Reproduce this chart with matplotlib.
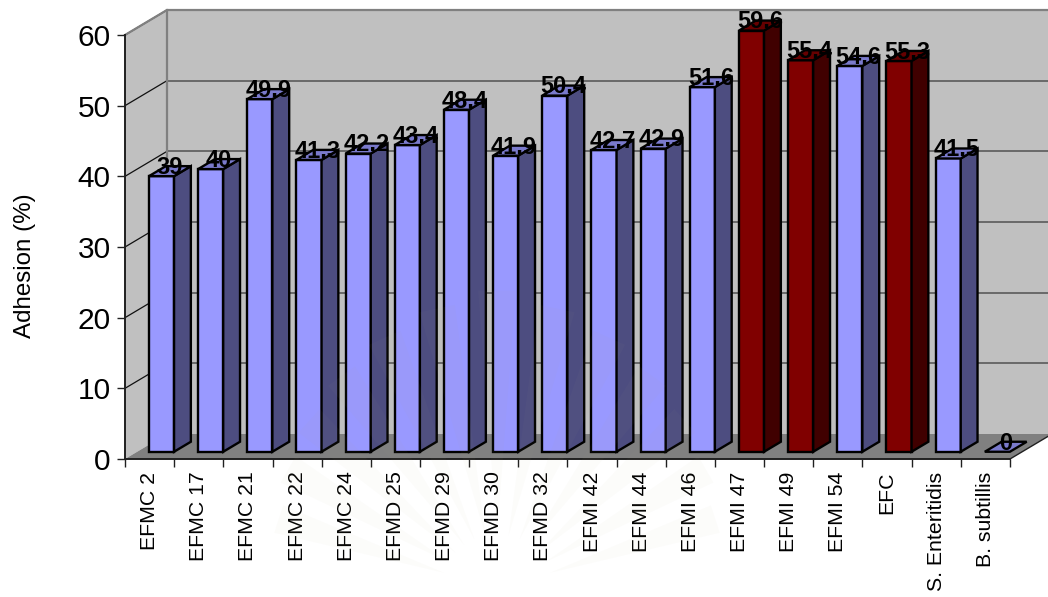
import numpy as np
import matplotlib
matplotlib.use("Agg")
import matplotlib.pyplot as plt
from matplotlib.patches import Polygon
from matplotlib.transforms import offset_copy

plt.rcParams["font.family"] = ["Liberation Sans", "DejaVu Sans"]

strains = ["EFMC 2", "EFMC 17", "EFMC 21", "EFMC 22", "EFMC 24", "EFMD 25",
           "EFMD 29", "EFMD 30", "EFMD 32", "EFMI 42", "EFMI 44", "EFMI 46",
           "EFMI 47", "EFMI 49", "EFMI 54", "EFC", "S. Enteritidis", "B. subtillis"]
adhesion = [39, 40, 49.9, 41.3, 42.2, 43.4, 48.4, 41.9, 50.4, 42.7, 42.9, 51.6,
            59.6, 55.4, 54.6, 55.3, 41.5, 0]
highlighted = ["EFMI 47", "EFMI 49", "EFC"]
value_ticks = [0, 10, 20, 30, 40, 50, 60]

W, H = 1048, 597
LEFT, RIGHT, BOTTOM, TOP = 125, 1010, 459, 35

# Oblique projection of the box: full depth in axis units
DEPTH_X = 42 / ((RIGHT - LEFT) / len(strains))
DEPTH_Y = 25 / ((BOTTOM - TOP) / 60)
BAR_WIDTH = 0.51
BAR_START = 0.24
BAR_NEAR, BAR_FAR = 0.29, 0.69

PALETTE = {
    "plain": ("#9999FF", "#4D4D80", "#7A7ACC"),
    "hot": ("#800000", "#400000", "#660000"),
}


def project(x, y, depth):
    return x + depth * DEPTH_X, y + depth * DEPTH_Y


def face(ax, corners, color, edge="black", lw=1.7, z=3):
    pts = [project(*c) for c in corners]
    ax.add_patch(Polygon(pts, closed=True, facecolor=color, edgecolor=edge,
                         linewidth=lw, joinstyle="miter", clip_on=False, zorder=z))


fig = plt.figure(figsize=(W / 100, H / 100), dpi=100, facecolor="white")
ax = fig.add_axes([LEFT / W, 1 - BOTTOM / H, (RIGHT - LEFT) / W, (BOTTOM - TOP) / H])
n = len(strains)
ax.set_xlim(0, n)
ax.set_ylim(0, 60)
ax.patch.set_visible(False)
for side in ("top", "right"):
    ax.spines[side].set_visible(False)
for side in ("left", "bottom"):
    ax.spines[side].set_linewidth(1.4)
    ax.spines[side].set_color("#202020")
    ax.spines[side].set_zorder(4)

# Walls and floor of the box
WALL = "#C0C0C0"
OUTLINE = "#808080"
face(ax, [(0, 0, 0), (0, 60, 0), (0, 60, 1), (0, 0, 1)], WALL, edge="none", z=0)
face(ax, [(0, 0, 1), (0, 60, 1), (n, 60, 1), (n, 0, 1)], WALL, edge="none", z=0)
face(ax, [(0, 0, 0), (n, 0, 0), (n, 0, 1), (0, 0, 1)], "#808080", edge="none", z=0.5)

# Gridlines wrapping round the side and back walls
for v in value_ticks[1:]:
    ax.plot(*zip(project(0, v, 0), project(0, v, 1)), color="#101010", lw=0.9,
            clip_on=False, zorder=1)
    if v < 60:
        ax.plot(*zip(project(0, v, 1), project(n, v, 1)), color="#5A5A5A", lw=1.2,
                clip_on=False, zorder=1)
ax.plot(*zip(project(0, 60, 0), project(0, 60, 1), project(n, 60, 1)), color=OUTLINE,
        lw=1.6, clip_on=False, zorder=1)
ax.plot(*zip(project(0, 0, 1), project(0, 60, 1)), color=OUTLINE, lw=1.6,
        clip_on=False, zorder=1)
ax.plot(*zip(project(n, 0, 0), project(n, 0, 1)), color="#202020", lw=1.0,
        clip_on=False, zorder=1)

# Bars: front, side and top faces, then the value above each one
label_tf = offset_copy(ax.transData, fig=fig, x=0, y=2.6, units="points")
for i, (name, value) in enumerate(zip(strains, adhesion)):
    front, flank, lid = PALETTE["hot" if name in highlighted else "plain"]
    x0, x1 = i + BAR_START, i + BAR_START + BAR_WIDTH
    if value > 0:
        face(ax, [(x0, 0, BAR_NEAR), (x1, 0, BAR_NEAR), (x1, value, BAR_NEAR), (x0, value, BAR_NEAR)], front)
        face(ax, [(x1, 0, BAR_NEAR), (x1, 0, BAR_FAR), (x1, value, BAR_FAR), (x1, value, BAR_NEAR)], flank)
    face(ax, [(x0, value, BAR_NEAR), (x1, value, BAR_NEAR), (x1, value, BAR_FAR), (x0, value, BAR_FAR)], lid)
    tx, ty = project((x0 + x1) / 2, value, (BAR_NEAR + BAR_FAR) / 2)
    ax.text(tx, ty, f"{value:g}", transform=label_tf, ha="center", va="center",
            fontsize=17, fontweight="bold", color="black", clip_on=False, zorder=5)

# Axes furniture
ax.set_yticks(value_ticks)
ax.tick_params(axis="y", length=5.8, width=1.0, pad=4.5, labelsize=21.5, color="#202020")
ax.set_xticks(range(n + 1))
ax.set_xticklabels([])
ax.tick_params(axis="x", which="major", length=5.5, width=1.0, color="#202020")
ax.set_xticks([i + 0.5 for i in range(n)], minor=True)
ax.set_xticklabels(strains, minor=True, rotation=90, fontsize=15.3, va="top", ha="center")
ax.tick_params(axis="x", which="minor", length=0, pad=9)
for lab in ax.get_xticklabels(minor=True):
    lab.set_x(lab.get_position()[0] - 0.06)

fig.text(25 / W, 1 - 266 / H, "Adhesion (%)", rotation=90, fontsize=17.4,
         ha="center", va="center")

# Faint fan of rays from a page seal lying across the lower middle of the sheet
seal_x, seal_y = 497, 590
for ang in np.arange(18, 165, 12):
    half = np.radians(3.6)
    t = np.radians(ang)
    reach = 300 - 70 * abs(ang - 90) / 72
    inner = 55
    pts = [(seal_x + inner * np.cos(t), seal_y - inner * np.sin(t)),
           (seal_x + reach * np.cos(t - half), seal_y - reach * np.sin(t - half)),
           (seal_x + reach * np.cos(t + half), seal_y - reach * np.sin(t + half))]
    fig.add_artist(Polygon([(px / W, 1 - py / H) for px, py in pts], closed=True,
                           transform=fig.transFigure, facecolor="#B8B080",
                           edgecolor="none", alpha=0.035, zorder=2))

fig.savefig("out.png", dpi=100)
